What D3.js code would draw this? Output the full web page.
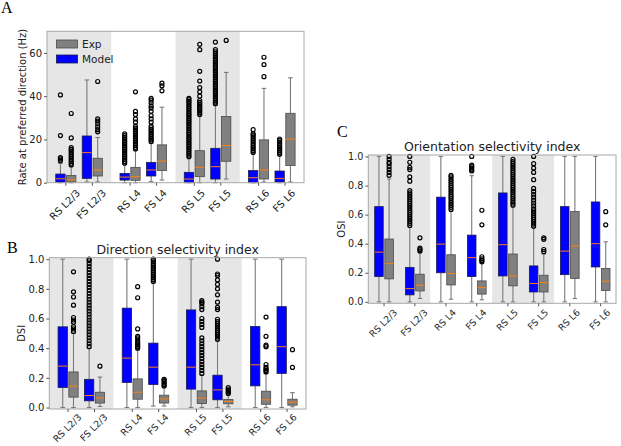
<!DOCTYPE html>
<html><head><meta charset="utf-8">
<script src="https://cdn.jsdelivr.net/npm/d3@7"></script>
<style>body{margin:0;background:#fff}svg{display:block}</style>
</head><body>
<svg id="chart" width="621" height="446"></svg>
<script>
// ---------------- DATA ----------------
const categories = ["RS L2/3","FS L2/3","RS L4","FS L4","RS L5","FS L5","RS L6","FS L6"];
const legendNames = ["Exp","Model"];
const rateTicks = [0,20,40,60];
const indexTicks = [0,0.2,0.4,0.6,0.8,1.0];
const rateLabel = "Rate at preferred direction (Hz)";
const dsiTitle = "Direction selectivity index";
const osiTitle = "Orientation selectivity index";

// box stats: [whisker low, q1, median, q3, whisker high]
const rateModel = [[0,0.2,1.8,4.0,9.0],[0.3,2.0,13.9,21.6,47.5],[0,1.2,2.6,4.3,8.5],[0.5,3.1,5.9,9.4,18.2],
                   [0,0,1.7,4.8,11.7],[0,1.7,7.4,15.9,36.0],[0,0,2.3,5.6,13.6],[0,0.3,2.0,5.4,12.8]];
const rateExp   = [[0,0.3,1.3,3.3,7.5],[0.3,3.1,5.9,11.3,20.9],[0,1.1,2.8,7.1,15.1],[1.2,5.6,10.0,17.5,34.9],
                   [0,2.8,7.1,14.8,31.0],[1.7,9.9,17.2,30.6,51.0],[0.3,1.7,5.9,19.8,43.6],[0.3,7.9,20.2,32.1,48.5]];
const rateModelOut = [
  [10.2,11.0,11.6,21.8,40.6],
  [],
  [9.0,9.8,10.6,11.4,12.2,13.0,13.8,14.6,15.4,16.2,17.0,17.8,18.6,19.4,20.2,21.0,21.8,22.6],
  [19.0,19.8,20.6,21.4,22.2,23.0,23.8,24.6,25.4,26.2,28.0,29.5,31.0,33.0,34.5,35.5,37.0,38.2,39.0],
  [12.0,12.8,13.6,14.4,15.2,16.0,16.8,17.6,18.4,19.2,20.0,20.8,21.6,22.4,23.2,24.0,24.8,25.6,26.4,27.2,28.0,28.8,29.6,30.4,31.2,32.0,32.8,33.6,34.4,35.2,36.0,36.8,37.6,38.4,39.0],
  [36.5,37.3,38.1,38.9,39.7,40.5,41.3,42.1,42.9,43.7,44.5,45.3,46.1,46.9,47.7,48.5,49.3,50.1,50.9,51.7,52.5,53.3,54.1,54.9,55.7,56.5,57.3,58.1,58.9,59.7,60.5,61.5,65.0],
  [14.0,14.8,15.6,16.4,17.2,18.0,18.8,19.6,20.4,21.2,22.0,22.6,24.5],
  [13.2,14.0,14.8,15.6,16.4,17.2,18.0,18.8,19.6,20.2]
];
const rateExpOut = [
  [8.2,9.0,9.8,10.6,11.4,12.2,13.0,13.8,14.6,15.4,16.2,20.7,32.0],
  [23.5,24.5,25.8,27.2,28.5,29.5,46.8],
  [15.6,16.4,17.2,18.0,18.8,19.6,20.4,21.2,22.0,22.8,23.6,24.4,25.2,26.0,28.0,29.5,31.5,33.0,42.0],
  [42.5,44.8,46.0],
  [31.5,32.3,33.1,33.9,34.7,35.5,36.3,37.1,38.0,40.0,42.0,44.0,47.0,51.5,61.5,64.0],
  [65.8],
  [49.0,54.6,58.0],
  []
];

const dsiModel = [[0,0.135,0.279,0.544,1.0],[0,0.045,0.081,0.19,0.40],[0,0.169,0.333,0.67,1.0],[0.01,0.155,0.272,0.434,0.85],
                  [0,0.124,0.272,0.658,1.0],[0,0.052,0.119,0.218,0.45],[0,0.146,0.288,0.546,1.0],[0,0.23,0.41,0.68,1.0]];
const dsiExp   = [[0,0.07,0.144,0.24,0.50],[0.007,0.03,0.065,0.103,0.205],[0,0.056,0.103,0.193,0.39],[0.01,0.03,0.058,0.083,0.14],
                  [0,0.027,0.063,0.112,0.22],[0.005,0.025,0.04,0.054,0.092],[0,0.022,0.052,0.11,0.23],[0.005,0.016,0.036,0.056,0.10]];
const dsiModelOut = [
  [],
  [0.41,0.43,0.45,0.47,0.49,0.51,0.53,0.55,0.57,0.59,0.61,0.63,0.65,0.67,0.69,0.71,0.73,0.75,0.77,0.79,0.81,0.83,0.85,0.87,0.89,0.91,0.93,0.95,0.97,0.99,1.0],
  [],
  [0.85,0.862,0.874,0.886,0.898,0.91,0.922,0.934,0.946,0.958,0.97,0.982,0.994,1.0],
  [],
  [0.46,0.475,0.49,0.505,0.52,0.535,0.55,0.565,0.58,0.595,0.66,0.675,0.71,0.76,0.80,0.83,0.86,0.89,0.90,1.0],
  [],
  []
];
const dsiExpOut = [
  [0.513,0.53,0.545,0.575,0.59,0.607,0.69,0.745,0.78,0.915],
  [0.279],
  [0.40,0.41,0.42,0.43,0.44,0.455,0.47,0.48,0.53,0.74,0.815],
  [0.145,0.155,0.165,0.175,0.185,0.19],
  [0.23,0.25,0.27,0.29,0.31,0.33,0.35,0.37,0.39,0.41,0.43,0.45,0.47,0.54,0.56,0.58,0.60,0.66,0.68,0.70,0.71,0.72],
  [0.095,0.105,0.115,0.125,0.135],
  [0.24,0.25,0.26,0.27,0.29,0.41,0.42,0.48,0.61],
  [0.27,0.39]
];

const osiModel = [[0,0.174,0.342,0.655,1.0],[0,0.048,0.091,0.237,0.514],[0,0.2,0.397,0.72,1.0],[0,0.174,0.304,0.459,0.868],
                  [0,0.178,0.393,0.749,1.0],[0,0.068,0.126,0.247,0.514],[0,0.187,0.349,0.655,1.0],[0,0.24,0.40,0.687,1.0]];
const osiExp   = [[0,0.158,0.263,0.432,0.845],[0.023,0.075,0.114,0.19,0.338],[0.018,0.116,0.194,0.324,0.625],[0.014,0.053,0.098,0.144,0.265],
                  [0,0.11,0.178,0.329,0.658],[0,0.068,0.132,0.183,0.331],[0.023,0.16,0.384,0.621,1.0],[0,0.078,0.142,0.23,0.413]];
const osiModelOut = [
  [],
  [0.525,0.54,0.555,0.57,0.585,0.6,0.615,0.63,0.645,0.66,0.675,0.69,0.705,0.72,0.735,0.75,0.765,0.83,0.86,0.91,0.925,0.96,1.0],
  [],
  [0.9,0.91,0.92,0.93,0.94,1.0],
  [],
  [0.52,0.535,0.55,0.565,0.58,0.595,0.61,0.625,0.64,0.66,0.68,0.70,0.72,0.74,0.76,0.78,0.84,0.89,0.92,0.95,1.0],
  [],
  []
];
const osiExpOut = [
  [0.87,0.89,0.91,0.93,0.95,0.96,0.98,1.0],
  [0.35,0.36,0.37,0.44],
  [0.635,0.65,0.665,0.68,0.695,0.71,0.725,0.74,0.755,0.77,0.785,0.8,0.815,0.83,0.845,0.86,0.87],
  [0.275,0.285,0.295,0.31,0.53,0.63],
  [0.665,0.68,0.695,0.71,0.725,0.74,0.755,0.77,0.785,0.8,0.815,0.83,0.845,0.86,0.875,0.89,0.905,0.92,0.935,0.95,0.965,0.98],
  [0.345,0.36,0.43,0.44],
  [],
  [0.53,0.62]
];

// ---------------- DRAWING ----------------
const svg = d3.select("#chart");
const FONT = "'DejaVu Sans', Verdana, sans-serif";
const SERIF = "'Liberation Serif', 'DejaVu Serif', serif";
const fill = {Model:"#0000ff", Exp:"#808080"};
const edge = {Model:"#1a1a50", Exp:"#4a4a4a"};
const whiskerColor = "#7a7a7a";
const medianColor = "#ff7f0e";
const shade = "#e6e6e6";
const frameColor = "#a8a8a8";
const textColor = "#222";

function drawPanel(cfg) {
  const x = d3.scaleLinear().domain([0, 4]).range([cfg.left, cfg.right]);
  const y = d3.scaleLinear().domain(cfg.yDomain).range([cfg.bottom, cfg.top]);
  const g = svg.append("g");

  [0, 2].forEach(k => g.append("rect")
    .attr("x", x(k)).attr("y", cfg.top)
    .attr("width", x(k + 1) - x(k)).attr("height", cfg.bottom - cfg.top)
    .attr("fill", shade));

  const bw = x(cfg.bw) - x(0);
  const series = [
    {name: "Model", stats: cfg.model, out: cfg.modelOut, off: -cfg.half},
    {name: "Exp", stats: cfg.exp, out: cfg.expOut, off: cfg.half}
  ];
  const tickPos = categories.map((c, i) => Math.floor(i / 2) + cfg.pairC[i % 2]);

  categories.forEach((c, i) => {
    series.forEach(s => {
      const [lo, q1, med, q3, hi] = s.stats[i];
      const cx = x(tickPos[i] + s.off);
      const line = (x1, y1, x2, y2, col, w) => g.append("line")
        .attr("x1", x1).attr("y1", y1).attr("x2", x2).attr("y2", y2)
        .attr("stroke", col).attr("stroke-width", w || 1);
      line(cx, y(lo), cx, y(q1), whiskerColor, 1.1);
      line(cx, y(q3), cx, y(hi), whiskerColor, 1.1);
      line(cx - bw / 4, y(lo), cx + bw / 4, y(lo), whiskerColor, 1.1);
      line(cx - bw / 4, y(hi), cx + bw / 4, y(hi), whiskerColor, 1.1);
      g.append("rect")
        .attr("x", cx - bw / 2).attr("y", y(q3))
        .attr("width", bw).attr("height", Math.max(0.5, y(q1) - y(q3)))
        .attr("fill", fill[s.name]).attr("stroke", edge[s.name]).attr("stroke-width", 0.8);
      line(cx - bw / 2, y(med), cx + bw / 2, y(med), medianColor, 1);
      g.selectAll(null).data(s.out[i]).enter().append("circle")
        .attr("cx", cx).attr("cy", d => y(d)).attr("r", 2)
        .attr("fill", "none").attr("stroke", "#000").attr("stroke-width", 1.2);
    });
  });

  g.append("rect").attr("x", cfg.left).attr("y", cfg.top)
    .attr("width", cfg.right - cfg.left).attr("height", cfg.bottom - cfg.top)
    .attr("fill", "none").attr("stroke", frameColor).attr("stroke-width", 1);

  // y axis
  const yAxis = d3.axisLeft(y).tickValues(cfg.yTicks).tickSize(3).tickPadding(2)
    .tickFormat(cfg.yFormat);
  const ya = g.append("g").attr("transform", `translate(${cfg.left},0)`).call(yAxis);
  ya.select(".domain").remove();
  ya.selectAll("line").attr("stroke", "#555");
  ya.selectAll("text").attr("font-family", FONT).attr("font-size", cfg.tickFont).attr("fill", textColor);

  // x axis ticks and rotated labels
  const xa = g.append("g");
  tickPos.forEach((p, i) => {
    xa.append("line").attr("x1", x(p)).attr("x2", x(p))
      .attr("y1", cfg.bottom).attr("y2", cfg.bottom + 3).attr("stroke", "#555");
    const t = xa.append("text").text(categories[i])
      .attr("font-family", FONT).attr("font-size", cfg.xFont).attr("fill", textColor)
      .attr("text-anchor", "middle").attr("dominant-baseline", "central");
    const w = t.node().getComputedTextLength();
    const H = (w + cfg.xFont * 1.0) / Math.SQRT2;
    const cx = x(p) - 1, cy = cfg.bottom + cfg.xOff + H / 2;
    t.attr("transform", `translate(${cx},${cy}) rotate(-45)`);
  });

  // y label
  g.append("text").text(cfg.yLabel)
    .attr("font-family", FONT).attr("font-size", cfg.labelFont).attr("fill", textColor)
    .attr("text-anchor", "middle").attr("dominant-baseline", "central")
    .attr("transform", `translate(${cfg.yLabelX},${(cfg.top + cfg.bottom) / 2}) rotate(-90)`);

  if (cfg.title) {
    g.append("text").text(cfg.title)
      .attr("x", (cfg.left + cfg.right) / 2).attr("y", cfg.top - 4)
      .attr("font-family", FONT).attr("font-size", cfg.titleFont).attr("fill", textColor)
      .attr("text-anchor", "middle");
  }
  svg.append("text").text(cfg.letter).attr("x", cfg.letterX).attr("y", cfg.letterY)
    .attr("font-family", SERIF).attr("font-size", 16).attr("fill", "#000");
  return {x, y, g};
}

const fmt1 = d3.format(".1f");
const pA = drawPanel({
  left: 47, right: 304, top: 31.3, bottom: 182.7, yDomain: [0, 70], yTicks: rateTicks,
  yFormat: d3.format("d"), pairC: [0.293, 0.705], half: 0.084, bw: 0.145,
  model: rateModel, exp: rateExp, modelOut: rateModelOut, expOut: rateExpOut,
  yLabel: rateLabel, yLabelX: 22, tickFont: 10, xFont: 10, xOff: 5, labelFont: 10,
  letter: "A", letterX: 1, letterY: 13
});
drawPanel({
  left: 49.3, right: 306, top: 257.7, bottom: 409, yDomain: [-0.01, 1.01], yTicks: indexTicks,
  yFormat: fmt1, pairC: [0.293, 0.705], half: 0.084, bw: 0.145,
  model: dsiModel, exp: dsiExp, modelOut: dsiModelOut, expOut: dsiExpOut,
  yLabel: "DSI", yLabelX: 21, tickFont: 10, xFont: 9.3, xOff: 3, labelFont: 10,
  title: dsiTitle, titleFont: 12.5, letter: "B", letterX: 7, letterY: 253
});
drawPanel({
  left: 368.3, right: 616, top: 155, bottom: 303.3, yDomain: [-0.01, 1.01], yTicks: indexTicks,
  yFormat: fmt1, pairC: [0.254, 0.752], half: 0.082, bw: 0.138,
  model: osiModel, exp: osiExp, modelOut: osiModelOut, expOut: osiExpOut,
  yLabel: "OSI", yLabelX: 341, tickFont: 9.6, xFont: 9.2, xOff: 4, labelFont: 10,
  title: osiTitle, titleFont: 12.5, letter: "C", letterX: 337, letterY: 137
});

// legend for panel A
const leg = pA.g.append("g");
legendNames.forEach((n, i) => {
  const ly = 44 + i * 15;
  leg.append("rect").attr("x", 56.5).attr("y", ly - 4).attr("width", 21).attr("height", 8)
    .attr("fill", fill[n]).attr("stroke", edge[n]).attr("stroke-width", 0.8);
  leg.append("text").text(n).attr("x", 82).attr("y", ly)
    .attr("dominant-baseline", "central")
    .attr("font-family", FONT).attr("font-size", 10.5).attr("fill", textColor);
});
</script></body></html>
